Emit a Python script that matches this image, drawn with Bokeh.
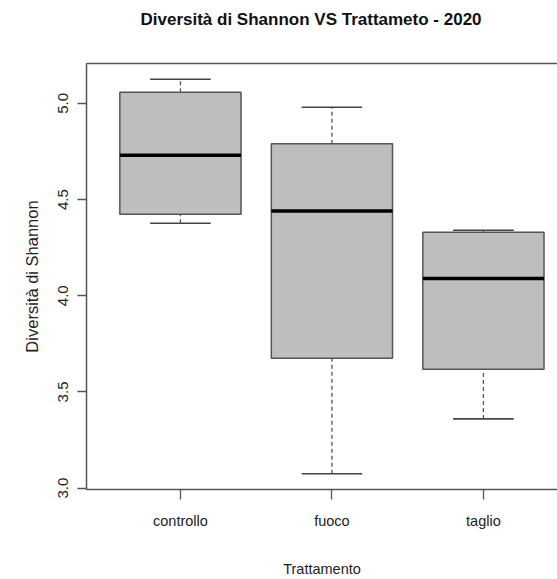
from bokeh.plotting import figure
from bokeh.models import FixedTicker, LinearAxis, Range1d, ColumnDataSource
from bokeh.embed import file_html
from bokeh.resources import INLINE

# ---- data ----
categories = ["controllo", "fuoco", "taglio"]
whisker_low = [4.377, 3.075, 3.36]
q1 = [4.423, 3.675, 3.618]
median = [4.73, 4.44, 4.09]
q3 = [5.057, 4.79, 4.33]
whisker_high = [5.125, 4.98, 4.34]
y_ticks = [3.0, 3.5, 4.0, 4.5, 5.0]
y_tick_labels = ["3.0", "3.5", "4.0", "4.5", "5.0"]

title_text = "Diversità di Shannon VS Trattameto - 2020"
x_label = "Trattamento"
y_label = "Diversità di Shannon"

pos = [i + 1 for i in range(len(categories))]

lo = min(whisker_low)
hi = max(whisker_high)
pad = (hi - lo) * 0.04

SANS = "Liberation Sans"

p = figure(width=557, height=579, output_backend="svg", toolbar_location=None,
           x_range=Range1d(0.38, 3.489), y_range=Range1d(lo - pad, hi + pad),
           min_border_left=86, min_border_right=0, min_border_top=63,
           min_border_bottom=90)
p.outline_line_color = None
p.grid.visible = False
p.background_fill_color = "white"
p.border_fill_color = "white"

src = ColumnDataSource(dict(x=pos, lo=whisker_low, q1=q1, med=median, q3=q3, hi=whisker_high,
                            xl=[v - 0.4 for v in pos], xr=[v + 0.4 for v in pos],
                            cl=[v - 0.2 for v in pos], cr=[v + 0.2 for v in pos]))

# whiskers (dashed)
p.segment(x0="x", y0="q3", x1="x", y1="hi", source=src, line_color="#555555",
          line_width=1.3, line_dash="4 3")
p.segment(x0="x", y0="lo", x1="x", y1="q1", source=src, line_color="#555555",
          line_width=1.3, line_dash="4 3")
# caps
p.segment(x0="cl", y0="hi", x1="cr", y1="hi", source=src, line_color="#444444", line_width=1.6)
p.segment(x0="cl", y0="lo", x1="cr", y1="lo", source=src, line_color="#444444", line_width=1.6)
# boxes
p.vbar(x="x", width=0.8, bottom="q1", top="q3", source=src, fill_color="#bebebe",
       line_color="#555555", line_width=1.5)
# medians
p.segment(x0="xl", y0="med", x1="xr", y1="med", source=src, line_color="#000000", line_width=3.5)

# axes
xa = p.xaxis[0]
xa.ticker = FixedTicker(ticks=pos)
xa.major_label_overrides = {v: c for v, c in zip(pos, categories)}
xa.minor_tick_line_color = None
xa.major_tick_in = 0
xa.major_tick_out = 10
xa.major_label_standoff = 13
xa.major_label_text_font = SANS
xa.major_label_text_font_size = "14.5px"
xa.major_label_text_color = "#222222"
xa.axis_label = x_label
xa.axis_label_text_font = SANS
xa.axis_label_text_font_size = "14.5px"
xa.axis_label_text_font_style = "normal"
xa.axis_label_text_color = "#222222"
xa.axis_label_standoff = 29
xa.axis_line_color = "#555555"
xa.axis_line_width = 1.5
xa.major_tick_line_color = "#555555"
xa.major_tick_line_width = 1.3

ya = p.yaxis[0]
ya.ticker = FixedTicker(ticks=y_ticks)
ya.major_label_overrides = {v: t for v, t in zip(y_ticks, y_tick_labels)}
ya.minor_tick_line_color = None
ya.major_tick_in = 0
ya.major_tick_out = 9
ya.major_label_standoff = 9
ya.major_label_orientation = "vertical"
ya.major_label_text_font = SANS
ya.major_label_text_font_size = "15px"
ya.major_label_text_color = "#222222"
ya.axis_label = y_label
ya.axis_label_text_font = SANS
ya.axis_label_text_font_size = "16.5px"
ya.axis_label_text_font_style = "normal"
ya.axis_label_text_color = "#222222"
ya.axis_label_standoff = 15
ya.axis_line_color = "#555555"
ya.axis_line_width = 1.5
ya.major_tick_line_color = "#555555"
ya.major_tick_line_width = 1.3

# top frame line (its invisible ticks provide the spacing between frame and title)
top = LinearAxis(major_tick_line_color=None, minor_tick_line_color=None,
                 major_tick_out=31, major_tick_in=0, major_label_standoff=0,
                 major_label_text_font_size="0px", axis_line_color="#555555",
                 axis_line_width=1.5, ticker=FixedTicker(ticks=pos),
                 major_label_overrides={v: "" for v in pos})
p.add_layout(top, "above")

p.title.text = title_text
p.title.text_font = SANS
p.title.text_font_size = "17px"
p.title.text_font_style = "bold"
p.title.text_color = "#111111"
p.title.align = "left"
p.title.offset = 54
p.title.standoff = 8

open("out.html", "w").write(file_html(p, INLINE))
